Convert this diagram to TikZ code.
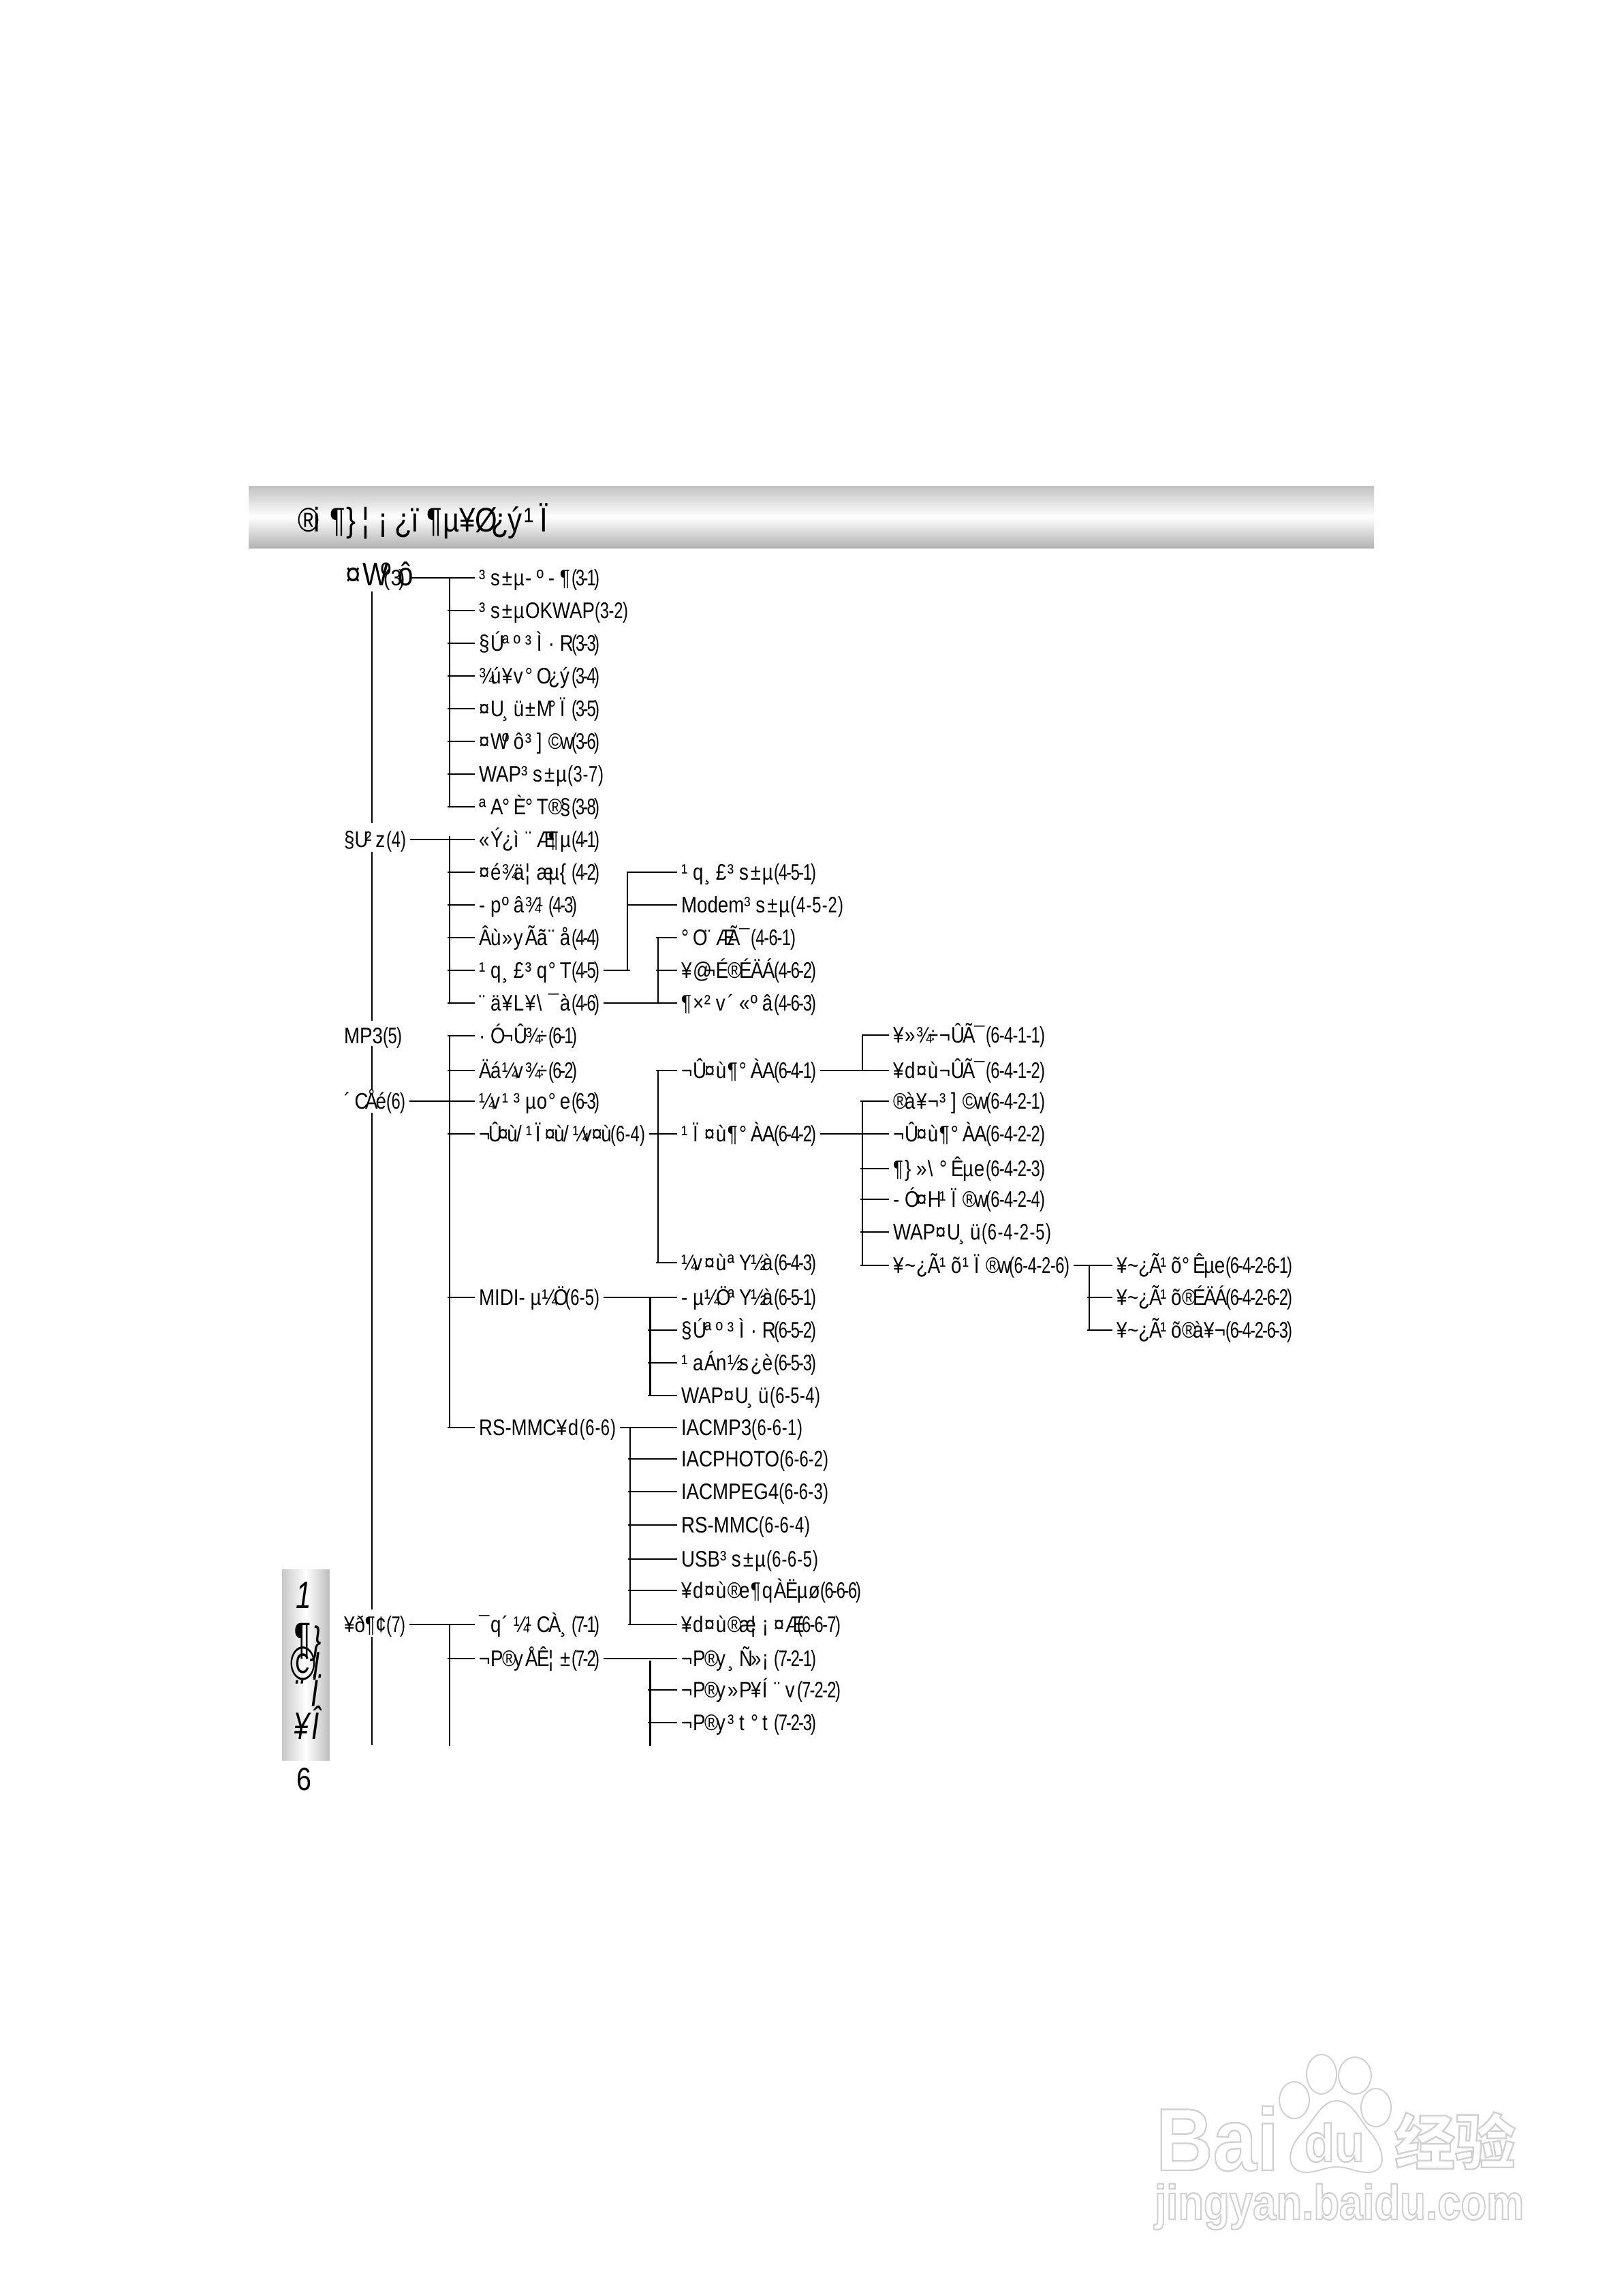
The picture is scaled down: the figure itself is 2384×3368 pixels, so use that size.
\documentclass[tikz,border=0pt]{standalone}
\usepackage{fontspec}
\usepackage{graphicx}
\setmainfont{Liberation Sans}[FakeStretch=0.84]
\newfontfamily\wmf{Liberation Sans}
\newfontfamily\stripf{Liberation Sans}[FakeStretch=0.72]
\newfontfamily\sfxf{Liberation Sans}[FakeStretch=0.72]
\newfontfamily\cjkf{Noto Sans CJK SC}
\newlength\cellw \setlength\cellw{17pt}
\newcount\kn
\newcount\kd
\newsavebox\lbox
\newsavebox\sbx
\newsavebox\cbx
\newcommand\stopbytes{}
\def\eachbyte#1{\ifx#1\stopbytes\else\makebox[\cellw][l]{#1}\expandafter\eachbyte\fi}
\newcommand\B[1]{\eachbyte#1\stopbytes}
\def\eachsfx#1{\ifx#1\stopbytes\else\sbox\cbx{#1}\makebox[\dimexpr\wd\cbx*\kn/\kd\relax][l]{#1}\expandafter\eachsfx\fi}
% x, right edge, leading part, closing part whose glyphs are spaced to end at the right edge
\newcommand\fitlab[4]{\sbox\lbox{#3}\sbox\sbx{\sfxf #4}%
  \kn=\number\dimexpr#2pt-#1pt-\wd\lbox-8pt\relax
  \kd=\number\dimexpr\wd\sbx-8pt\relax
  \makebox[\dimexpr#2pt-#1pt\relax][l]{\usebox\lbox{\sfxf\eachsfx#4\stopbytes}}}
\newcommand\Lab[6]{\node[lab] (#1) at (#2-6,#3) {\fitlab{#2}{#4}{#5}{#6}};}
\newcommand\Br[2]{\foreach \n in {#2} {\draw[ln,shorten <=-3.5pt] (#1 |- \n.west) -- (\n.west);}}
\newcommand\outl[2]{\special{pdf:literal 1 Tr #1 w 0.82 G}#2\special{pdf:literal 0 Tr 1 w 0 G}}
\tikzset{
  x=1pt,y=-1pt,
  lab/.style={anchor=west,inner xsep=6pt,inner ysep=0pt,outer sep=0pt,text height=23pt,text depth=0pt,font=\fontsize{33}{36}\selectfont,text=black},
  ln/.style={draw=black,line width=2.8pt},
  stem/.style={draw=black,line width=2.8pt,line cap=rect},
  thin trunk/.style={draw=black,line width=2.6pt},
  wm/.style={anchor=base west,inner sep=0pt,outer sep=0pt},
  paw/.style={draw=black!18,line width=2pt,fill=white},
  strip/.style={anchor=base west,inner sep=0pt,outer sep=0pt,font=\stripf\itshape\fontsize{56}{60}\selectfont},
}
\begin{document}
\begin{tikzpicture}
\useasboundingbox (0,0) rectangle (2384,3368);
\fill[white] (0,0) rectangle (2384,3368);
% banner
\shade[top color=black!24,bottom color=black!30,middle color=white] (365,713) rectangle (2017,804);
\node[anchor=base west,inner sep=0pt,font=\fontsize{50}{54}\selectfont] (title) at (437,780) {\setlength\cellw{23.7pt}\B{®i¶\}¦¡¿ï¶µ¥Ø¿ý¹Ï}};
% side strip
\shade[left color=black!22,right color=black!26,middle color=white] (414,2303) rectangle (484,2583);
\node[strip] (st1) at (434,2360) {1};
\node[strip] (st2) at (430,2426) {\setlength\cellw{28pt}\B{{\scalebox{1.15}{¶}}\}}};
\node[strip] (st3) at (425,2465) {\setlength\cellw{34pt}\B{{\scalebox{1.25}{©}}l}};
\node[strip] (st4) at (431,2504) {\setlength\cellw{25pt}\B{¨Ï}};
\node[strip] (st5) at (431,2552) {\setlength\cellw{27pt}\B{¥Î}};
\node[anchor=center,inner sep=0pt,font=\fontsize{47}{50}\selectfont] (pg) at (446,2611) {6};
% roots
\node[lab,text height=23pt] (r3) at (501,848) {\makebox[90pt][l]{\rlap{\fontsize{48}{50}\selectfont\setlength\cellw{26pt}\B{¤Wºô}}\hspace{56pt}\setlength\cellw{11pt}\B{(3)}}};
\setlength\cellw{15.5pt}
\Lab{r4}{505}{1232}{596}{\B{§U²z}}{(4)}
\Lab{r5}{505}{1520}{590}{MP3}{(5)}
\Lab{r6}{505}{1616}{595}{\B{´CÅé}}{(6)}
\Lab{r7}{505}{2384}{595}{\B{¥ð¶¢}}{(7)}
\setlength\cellw{17pt}
% level 1
\Lab{n31}{703}{848}{880}{\B{³s±µ-º-¶}}{(3-1)}
\Lab{n32}{703}{896}{922}{\B{³s±µ}OKWAP}{(3-2)}
\Lab{n33}{703}{944}{880}{\B{§Úªº³Ì·R}}{(3-3)}
\Lab{n34}{703}{992}{880}{\B{¾ú¥v°O¿ý}}{(3-4)}
\Lab{n35}{703}{1040}{880}{\B{¤U¸ü±M°Ï}}{(3-5)}
\Lab{n36}{703}{1088}{880}{\B{¤Wºô³]©w}}{(3-6)}
\Lab{n37}{703}{1136}{886}{WAP\B{³s±µ}}{(3-7)}
\Lab{n38}{703}{1184}{880}{\B{ªA°È°T®§}}{(3-8)}
\Lab{n41}{703}{1232}{880}{\B{«Ý¿ì¨Æ¶µ}}{(4-1)}
\Lab{n42}{703}{1280}{880}{\B{¤é¾ä¦æµ\{}}{(4-2)}
\Lab{n43}{703}{1328}{847}{\B{-pºâ¾¹}}{(4-3)}
\Lab{n44}{703}{1376}{880}{\B{Âù»yÃã¨å}}{(4-4)}
\Lab{n45}{703}{1424}{880}{\B{¹q¸£³q°T}}{(4-5)}
\Lab{n46}{703}{1472}{880}{\B{¨ä¥L¥\textbackslash¯à}}{(4-6)}
\Lab{n61}{703}{1520}{847}{\B{·Ó¬Û¾÷}}{(6-1)}
\Lab{n62}{703}{1571}{847}{\B{Äá¼v¾÷}}{(6-2)}
\Lab{n63}{703}{1616}{880}{\B{¼v¹³µo°e}}{(6-3)}
{\setlength\cellw{13.8pt}\Lab{n64}{703}{1664}{947}{\B{¬Û¤ù/¹Ï¤ù/¼v¤ù}}{(6-4)}}
\Lab{n65}{703}{1904}{880}{MIDI\B{-µ¼Ö}}{(6-5)}
\Lab{n66}{703}{2095}{904}{RS-MMC\B{¥d}}{(6-6)}
\Lab{n71}{703}{2384}{880}{\B{¯q´¼¹CÀ¸}}{(7-1)}
\Lab{n72}{703}{2434}{880}{\B{¬P®yÅÊ¦±}}{(7-2)}
% level 2
\Lab{n451}{1000}{1280}{1198}{\B{¹q¸£³s±µ}}{(4-5-1)}
\Lab{n452}{1000}{1328}{1238}{Modem\B{³s±µ}}{(4-5-2)}
\Lab{n461}{1000}{1376}{1168}{\B{°O¨ÆÃ¯}}{(4-6-1)}
\Lab{n462}{1000}{1424}{1198}{\B{¥@¬É®ÉÄÁ}}{(4-6-2)}
\Lab{n463}{1000}{1472}{1198}{\B{¶×²v´«ºâ}}{(4-6-3)}
\Lab{n641}{1000}{1571}{1198}{\B{¬Û¤ù¶°ÀA}}{(6-4-1)}
\Lab{n642}{1000}{1664}{1198}{\B{¹Ï¤ù¶°ÀA}}{(6-4-2)}
\Lab{n643}{1000}{1853}{1198}{\B{¼v¤ùªY½à}}{(6-4-3)}
\Lab{n651}{1000}{1904}{1198}{\B{-µ¼ÖªY½à}}{(6-5-1)}
\Lab{n652}{1000}{1952}{1198}{\B{§Úªº³Ì·R}}{(6-5-2)}
\Lab{n653}{1000}{2000}{1198}{\B{¹aÁn½s¿è}}{(6-5-3)}
\Lab{n654}{1000}{2048}{1204}{WAP\B{¤U¸ü}}{(6-5-4)}
\Lab{n661}{1000}{2095}{1178}{IACMP3}{(6-6-1)}
\Lab{n662}{1000}{2141}{1216}{IACPHOTO}{(6-6-2)}
\Lab{n663}{1000}{2189}{1216}{IACMPEG4}{(6-6-3)}
\Lab{n664}{1000}{2238}{1189}{RS-MMC}{(6-6-4)}
\Lab{n665}{1000}{2288}{1201}{USB\B{³s±µ}}{(6-6-5)}
\Lab{n666}{1000}{2334}{1264}{\B{¥d¤ù®e¶qÀËµø}}{(6-6-6)}
\Lab{n667}{1000}{2384}{1234}{\B{¥d¤ù®æ¦¡¤Æ}}{(6-6-7)}
\Lab{n721}{1000}{2434}{1198}{\B{¬P®y¸Ñ»¡}}{(7-2-1)}
\Lab{n722}{1000}{2480}{1234}{\B{¬P®y»P¥Í¨v}}{(7-2-2)}
\Lab{n723}{1000}{2528}{1198}{\B{¬P®y³t°t}}{(7-2-3)}
% level 3
\Lab{n6411}{1311}{1519}{1534}{\B{¥»¾÷¬ÛÃ¯}}{(6-4-1-1)}
\Lab{n6412}{1311}{1571}{1534}{\B{¥d¤ù¬ÛÃ¯}}{(6-4-1-2)}
\Lab{n6421}{1311}{1616}{1534}{\B{®à¥¬³]©w}}{(6-4-2-1)}
\Lab{n6422}{1311}{1664}{1534}{\B{¬Û¤ù¶°ÀA}}{(6-4-2-2)}
\Lab{n6423}{1311}{1715}{1534}{\B{¶\}»\textbackslash°Êµe}}{(6-4-2-3)}
\Lab{n6424}{1311}{1760}{1534}{\B{-Ó¤H¹Ï®w}}{(6-4-2-4)}
\Lab{n6425}{1311}{1808}{1543}{WAP\B{¤U¸ü}}{(6-4-2-5)}
\Lab{n6426}{1311}{1857}{1570}{\B{¥\textasciitilde¿Ã¹õ¹Ï®w}}{(6-4-2-6)}
% level 4
\setlength\cellw{16pt}
\Lab{n64261}{1639}{1857}{1897}{\B{¥\textasciitilde¿Ã¹õ°Êµe}}{(6-4-2-6-1)}
\Lab{n64262}{1639}{1904}{1897}{\B{¥\textasciitilde¿Ã¹õ®ÉÄÁ}}{(6-4-2-6-2)}
\Lab{n64263}{1639}{1952}{1897}{\B{¥\textasciitilde¿Ã¹õ®à¥¬}}{(6-4-2-6-3)}
\setlength\cellw{17pt}
% stems: named columns and free ends
\coordinate (cA) at (660,0);
\coordinate (c45) at (921,0);
\coordinate (c46) at (966,0);
\coordinate (c65) at (954.5,0);
\coordinate (c66) at (925,0);
\coordinate (c641) at (1266,0);
\coordinate (c6426) at (1599,0);
\coordinate (bot7) at (660,2561);
\coordinate (bot72) at (954.5,2561);
% trunk
\coordinate (tA) at (546,868);
\coordinate (tB) at (546,1208);
\coordinate (tC) at (546,1250);
\coordinate (tD) at (546,1498);
\coordinate (tE) at (546,1535);
\coordinate (tF) at (546,1600);
\coordinate (tG) at (546,1633);
\coordinate (tH) at (546,2362);
\coordinate (tI) at (546,2402);
\coordinate (tJ) at (546,2561);
\draw[thin trunk] (tA) -- (tB);
\draw[thin trunk] (tC) -- (tD);
\draw[thin trunk] (tE) -- (tF);
\draw[thin trunk] (tG) -- (tH);
\draw[thin trunk] (tI) -- (tJ);
% root stubs
\draw[ln] (r3.east) -- (n31.west);
\draw[ln] (r4.east) -- (n41.west);
\draw[ln] (r6.east) -- (n63.west);
\draw[ln] (r7.east) -- (n71.west);
% level 1 stems
\draw[stem] (cA |- n31.west) -- (cA |- n38.west);
\Br{cA}{n32,n33,n34,n35,n36,n37,n38}
\draw[stem] ([yshift=4pt]cA |- n41.west) -- (cA |- n46.west);
\Br{cA}{n42,n43,n44,n45,n46}
\draw[stem] (cA |- n61.west) -- (cA |- n66.west);
\Br{cA}{n61,n62,n64,n65,n66}
\draw[stem] (cA |- n71.west) -- (bot7);
\Br{cA}{n72}
% 4-5, 4-6
\draw[ln] (n45.east) -- ([xshift=4pt]c45 |- n45.east);
\draw[stem] (c45 |- n451.west) -- (c45 |- n45.east);
\draw[ln] (c45 |- n451.west) -- (n451.west);
\draw[ln] (c45 |- n452.west) -- (n452.west);
\draw[stem] (c46 |- n461.west) -- (c46 |- n463.west);
\Br{c46}{n461,n462}
\draw[ln] (n46.east) -- (n463.west);
% 6-4
\draw[stem] (c46 |- n641.west) -- (c46 |- n643.west);
\Br{c46}{n641,n643}
\draw[ln] (n64.east) -- (n642.west);
\draw[ln] (n641.east) -- (n6412.west);
\draw[stem] (c641 |- n6411.west) -- (c641 |- n6412.west);
\draw[ln] (c641 |- n6411.west) -- (n6411.west);
\draw[ln] (n642.east) -- (n6422.west);
\draw[stem] (c641 |- n6421.west) -- (c641 |- n6426.west);
\Br{c641}{n6421,n6423,n6424,n6425,n6426}
\draw[ln] (n6426.east) -- (n64261.west);
\draw[stem] (c6426 |- n64261.west) -- (c6426 |- n64263.west);
\Br{c6426}{n64262,n64263}
% 6-5, 6-6
\draw[ln] (n65.east) -- (n651.west);
\draw[stem] (c65 |- n651.west) -- (c65 |- n654.west);
\Br{c65}{n652,n653,n654}
\draw[ln] (n66.east) -- (n661.west);
\draw[stem] (c66 |- n661.west) -- (c66 |- n667.west);
\Br{c66}{n662,n663,n664,n665,n666,n667}
% 7-2
\draw[ln] (n72.east) -- (n721.west);
\draw[stem] ([yshift=-4pt]c65 |- n721.west) -- (bot72);
\Br{c65}{n722,n723}
% watermark
\node[wm] (wbai) at (1697,3185) {\resizebox{180pt}{\height}{\wmf\bfseries\fontsize{130}{130}\selectfont\outl{2.4}{Bai}}};
\draw[paw] (1900,3082) ellipse [x radius=22,y radius=27];
\draw[paw] (1940,3044) ellipse [x radius=22,y radius=29];
\draw[paw] (1989,3046) ellipse [x radius=24,y radius=27];
\draw[paw] (2020,3093) ellipse [x radius=22,y radius=28];
\draw[paw] (1962,3083) .. controls (1985,3083) and (1995,3110) .. (2012,3130) .. controls (2030,3150) and (2040,3187) .. (2008,3188) .. controls (1990,3188) and (1980,3180) .. (1962,3180) .. controls (1945,3180) and (1935,3188) .. (1917,3188) .. controls (1885,3187) and (1890,3150) .. (1912,3130) .. controls (1930,3110) and (1940,3083) .. (1962,3083);
\node[wm] (wdu) at (1915,3172) {\resizebox{88pt}{\height}{\wmf\bfseries\fontsize{78}{78}\selectfont\outl{2.4}{du}}};
\node[wm] (wjy) at (2047,3176) {\resizebox{178pt}{\height}{\cjkf\bfseries\fontsize{88}{88}\selectfont\outl{2.4}{经验}}};
\node[wm] (wurl) at (1695,3257) {\resizebox{542pt}{\height}{\wmf\bfseries\fontsize{72}{72}\selectfont\outl{2.4}{jingyan.baidu.com}}};
\end{tikzpicture}
\end{document}
